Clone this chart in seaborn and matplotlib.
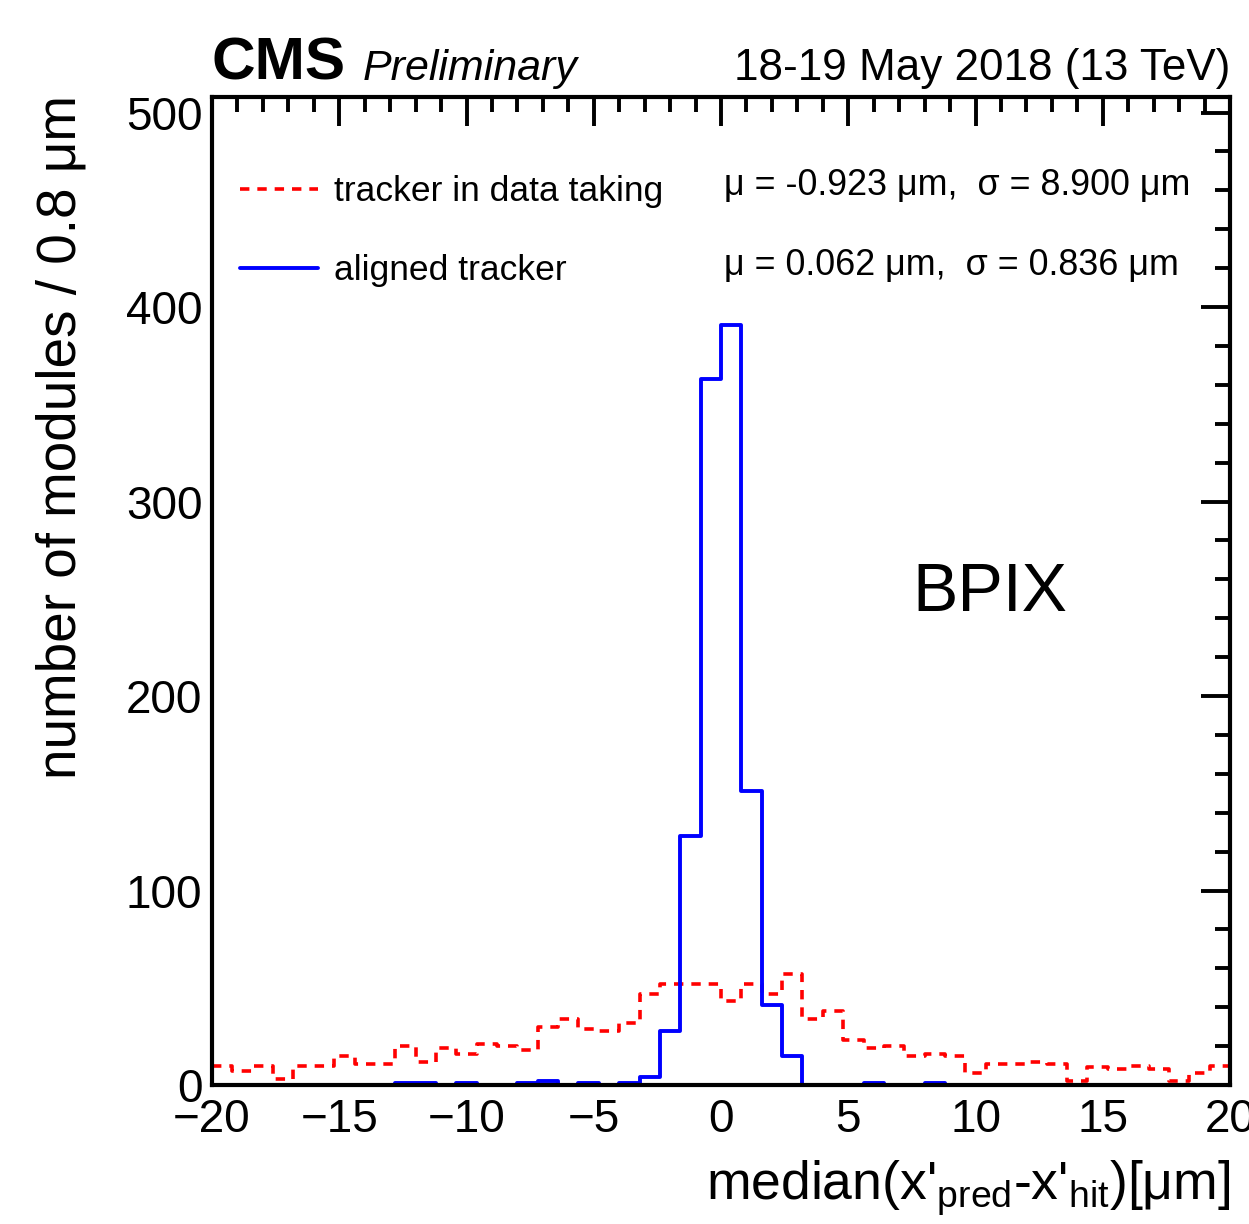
import numpy as np
import pandas as pd
import matplotlib
matplotlib.use("Agg")
import matplotlib.pyplot as plt
from matplotlib.lines import Line2D
from matplotlib.ticker import MultipleLocator
import seaborn as sns

# ---- data (counts per 0.8 um bin, from -20 to 20 um) ----
bin_lo, bin_hi, bin_w = -20.0, 20.0, 0.8
red_counts = [10, 7, 10, 3, 10, 10, 15, 11, 11, 20,
              12, 19, 16, 21, 20, 18, 30, 34, 29, 28,
              32, 47, 52, 52, 52, 43, 52, 47, 57, 34,
              38, 23, 19, 20, 15, 16, 15, 6, 11, 11,
              12, 11, 2, 9, 8, 10, 8, 2, 6, 10]
blue_counts = [0, 0, 0, 0, 0, 0, 0, 0, 0, 1,
               1, 0, 1, 0, 0, 1, 2, 0, 1, 0,
               1, 4, 28, 128, 363, 391, 151, 41, 15, 0,
               0, 0, 1, 0, 0, 1, 0, 0, 0, 0,
               0, 0, 0, 0, 0, 0, 0, 0, 0, 0]
label_red = "tracker in data taking"
label_blue = "aligned tracker"
stats_red = "μ = -0.923 μm,  σ = 8.900 μm"
stats_blue = "μ = 0.062 μm,  σ = 0.836 μm"
x_ticks = [-20, -15, -10, -5, 0, 5, 10, 15, 20]
y_ticks = [0, 100, 200, 300, 400, 500]

n_bins = len(red_counts)
centers = bin_lo + bin_w * (np.arange(n_bins) + 0.5)
df_red = pd.DataFrame({"x": centers, "w": np.asarray(red_counts, float)})
df_blue = pd.DataFrame({"x": centers, "w": np.asarray(blue_counts, float)})

sns.set_style("white")
plt.rcParams["font.family"] = ["Liberation Sans", "DejaVu Sans"]
plt.rcParams["mathtext.fontset"] = "custom"
plt.rcParams["mathtext.rm"] = "Liberation Sans"
plt.rcParams["mathtext.it"] = "Liberation Sans:italic"
for k in ["text.color", "axes.labelcolor", "xtick.color", "ytick.color",
          "axes.edgecolor"]:
    plt.rcParams[k] = "black"

W, H = 1249, 1224
fig = plt.figure(figsize=(W / 100, H / 100), dpi=100)
L, R, T, B = 212, 1230, 97, 1085
ax = fig.add_axes([L / W, 1 - B / H, (R - L) / W, (B - T) / H])

sns.histplot(data=df_red, x="x", weights="w", binwidth=bin_w,
             binrange=(bin_lo, bin_hi), element="step",
             fill=False, color="red", linewidth=2.6,
             linestyle=(0, (2.6, 2.2)), ax=ax)
sns.histplot(data=df_blue, x="x", weights="w", binwidth=bin_w,
             binrange=(bin_lo, bin_hi), element="step",
             fill=False, color="blue", linewidth=2.8, ax=ax)

ax.set_xlim(-20, 20)
ax.set_ylim(0, 508)
ax.set_xticks(x_ticks)
ax.set_yticks(y_ticks)
ax.set_xticklabels([("\u2212" + str(-v)) if v < 0 else str(v) for v in x_ticks])
ax.set_yticklabels([str(v) for v in y_ticks])
ax.xaxis.set_minor_locator(MultipleLocator(1))
ax.yaxis.set_minor_locator(MultipleLocator(20))
ax.tick_params(which="both", direction="in", top=True, right=True,
               width=2.8, color="black", labelcolor="black")
ax.tick_params(which="major", length=21)
ax.tick_params(which="minor", length=10.5)
ax.tick_params(axis="x", which="major", labelsize=33, pad=9)
ax.tick_params(axis="y", which="major", labelsize=33, pad=7)
for s in ax.spines.values():
    s.set_linewidth(3.0)
    s.set_color("black")
ax.set_xlabel("")
ax.set_ylabel("")

# legend
handles = [Line2D([], [], color="red", linewidth=2.6, linestyle=(0, (2.6, 2.2))),
           Line2D([], [], color="blue", linewidth=2.8)]
leg = ax.legend(handles, [label_red, label_blue], loc="upper left",
                bbox_to_anchor=(0.014, 0.935), frameon=False, fontsize=25.5,
                handlelength=2.2, handletextpad=0.45, labelspacing=1.3,
                borderaxespad=0)
for t in leg.get_texts():
    t.set_color("black")

fig.text(724 / W, 1 - 186 / H, stats_red, fontsize=25.8, ha="left", va="center")
fig.text(724 / W, 1 - 266 / H, stats_blue, fontsize=25.8, ha="left", va="center")
fig.text(912 / W, 1 - 593 / H, "BPIX", fontsize=49, ha="left", va="center")

# header
fig.text(212 / W, 1 - 80 / H, "CMS", fontsize=43.5, fontweight="bold",
         ha="left", va="baseline")
fig.text(363 / W, 1 - 80 / H, "Preliminary", fontsize=31, fontstyle="italic",
         ha="left", va="baseline")
fig.text(1230 / W, 1 - 80 / H, "18-19 May 2018 (13 TeV)", fontsize=31.7,
         ha="right", va="baseline")

# axis titles
fig.text(1230 / W, 1 - 1200 / H,
         r"median(x'$_{\mathrm{pred}}$-x'$_{\mathrm{hit}}$)[μm]",
         fontsize=38.5, ha="right", va="baseline")
fig.text(62 / W, 1 - 95 / H, "number of modules / 0.8 μm", fontsize=39.5,
         rotation=90, ha="center", va="top")

fig.savefig("out.png", dpi=100)
